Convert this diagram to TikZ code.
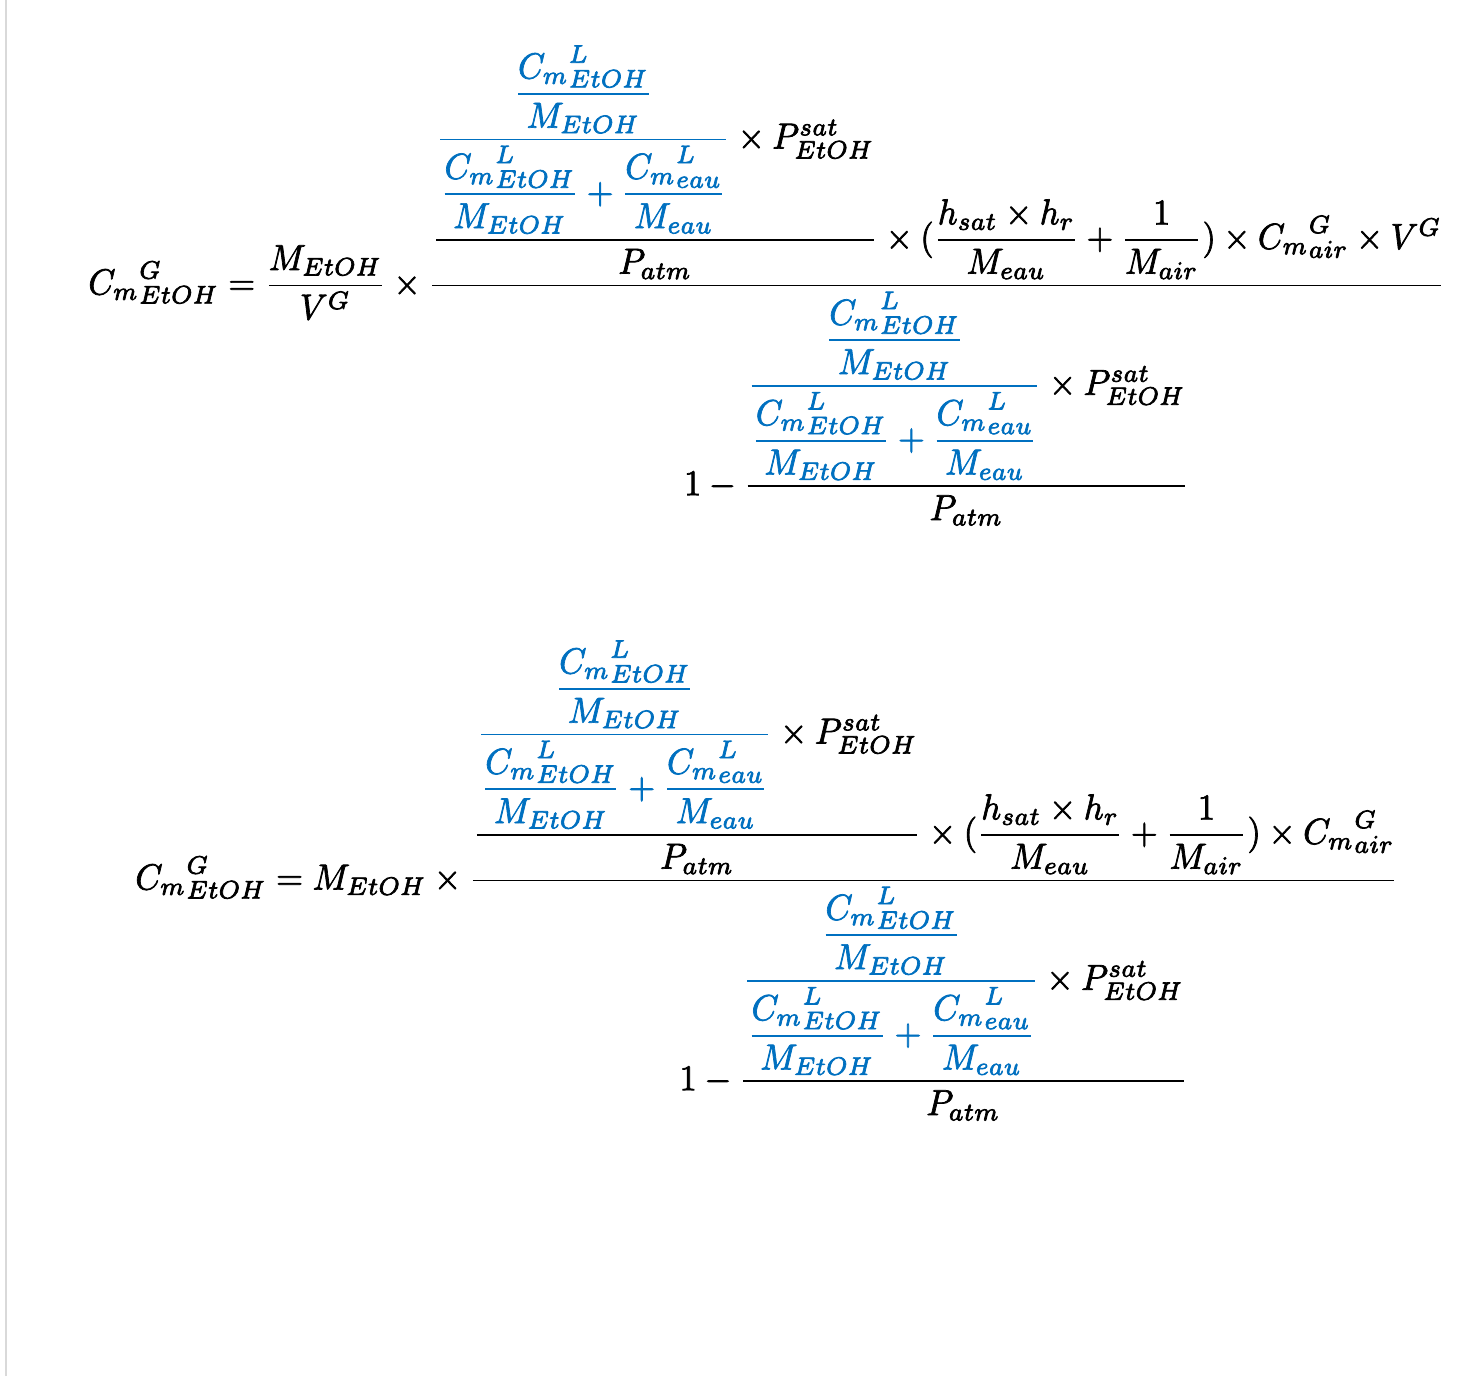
\documentclass[tikz,border=0pt]{standalone}
\usepackage{amsmath,amssymb,graphicx}
\definecolor{color0}{HTML}{000000}
\definecolor{color1}{HTML}{0070C0}
\definecolor{color2}{HTML}{D9D9D9}
\definecolor{bgColor}{HTML}{ffffff}
\newcommand{\fr}[2]{\genfrac{}{}{0.5pt}{0}{#1}{#2}}
\newcommand{\cmx}[2]{{C_m}^{#1}_{#2}}
\newcommand{\molfrac}{{\color{color1}\fr{\fr{\cmx{L}{EtOH}}{M_{EtOH}}}{\fr{\cmx{L}{EtOH}}{M_{EtOH}}+\fr{\cmx{L}{eau}}{M_{eau}}}}}
\newcommand{\ypart}{\fr{\molfrac\times P^{sat}_{EtOH}}{P_{atm}}}
\newcommand{\hpart}{(\fr{h_{sat}\times h_r}{M_{eau}}+\fr{1}{M_{air}})}
\newcommand{\heavy}{\special{pdf:literal direct 2 Tr 0.2 w}}
\newcommand{\unheavy}{\special{pdf:literal direct 0 Tr}}
\begin{document}
\begin{tikzpicture}
\tikzset{x=0.5pt,y=0.5pt}
\clip (0,0) rectangle (1459, 1376);
\fill[bgColor] (0,0) rectangle (1459, 1376);
\draw[line width=0.6pt, color=color2] (6, 0) -- (6, 1376);
\node (eqVG) [color=color0, anchor=north west, inner sep=0pt] at (88, 1331) {\resizebox*{678.5pt}{240pt}{\heavy$\displaystyle \cmx{G}{EtOH}=\fr{M_{EtOH}}{V^G}\times\fr{\ypart\times\hpart\times\cmx{G}{air}\times V^G}{1-\ypart}$\unheavy}};
\node (eqMass) [color=color0, anchor=north west, inner sep=0pt] at (135, 736) {\resizebox*{631.5pt}{240pt}{\heavy$\displaystyle \cmx{G}{EtOH}=M_{EtOH}\times\fr{\ypart\times\hpart\times\cmx{G}{air}}{1-\ypart}$\unheavy}};
\end{tikzpicture}
\end{document}
